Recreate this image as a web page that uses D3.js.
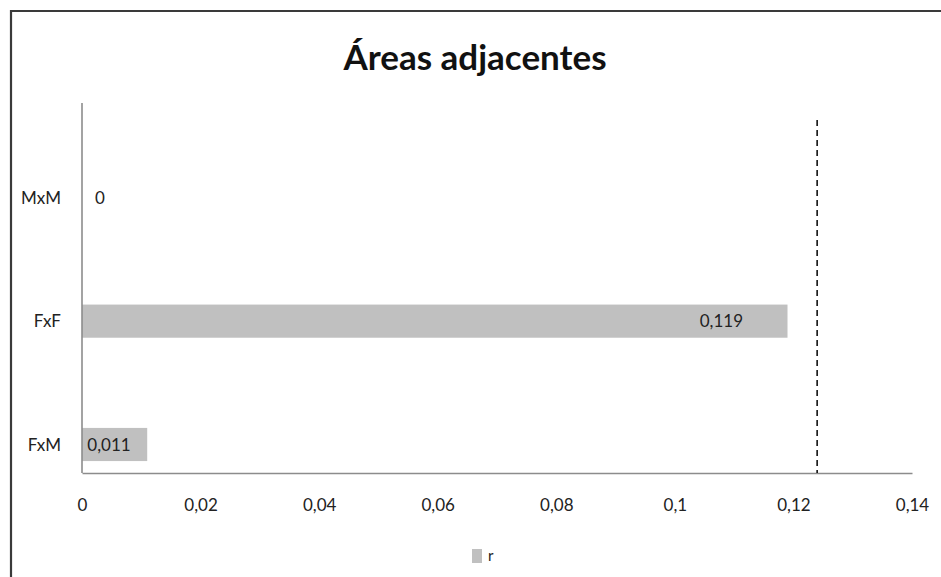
<!DOCTYPE html>
<html>
<head>
<meta charset="utf-8">
<script src="https://cdn.jsdelivr.net/npm/d3@7/dist/d3.min.js"></script>
<style>
  html, body { margin: 0; padding: 0; background: #fff; }
  svg { display: block; }
  text { font-family: Lato, "Open Sans", sans-serif; fill: #222; }
</style>
</head>
<body>
<svg id="chart" width="941" height="577"></svg>
<script>
// Correlation coefficient r for each pairing of adjacent areas
const categories = ["MxM", "FxF", "FxM"];
const rValues = [0, 0.119, 0.011];
const valueLabels = ["0", "0,119", "0,011"];
const xTicks = [0, 0.02, 0.04, 0.06, 0.08, 0.1, 0.12, 0.14];
const xTickLabels = ["0", "0,02", "0,04", "0,06", "0,08", "0,1", "0,12", "0,14"];
const thresholdValue = 0.124;   // dashed reference line
const seriesName = "r";
const titleText = "Áreas adjacentes";

const svg = d3.select("#chart");
const plot = { left: 82, right: 912, top: 103, bottom: 473 };

// outer frame (open on the right and bottom)
svg.append("path")
  .attr("d", `M11,577 L11,11 L941,11`)
  .attr("fill", "none").attr("stroke", "#3a3a3a").attr("stroke-width", 2.2);

const x = d3.scaleLinear().domain([0, 0.14]).range([plot.left, plot.right]);
const y = d3.scaleBand().domain(categories).range([plot.top, plot.bottom]).padding(0);
// each category cluster holds three slots; the r bar sits in the last one
const slot = d3.scaleBand().domain([0, 1, 2]).range([0, y.bandwidth()]).paddingOuter(0.36).paddingInner(0);

// title
svg.append("text")
  .attr("x", 475).attr("y", 70)
  .attr("text-anchor", "middle")
  .style("font-weight", "bold").style("font-size", "35px").style("fill", "#111")
  .text(titleText);

// bars
const data = categories.map((c, i) => ({ cat: c, v: rValues[i], label: valueLabels[i] }));
svg.selectAll("rect.bar").data(data).join("rect")
  .attr("class", "bar")
  .attr("x", x(0))
  .attr("y", d => y(d.cat) + slot(2))
  .attr("width", d => x(d.v) - x(0))
  .attr("height", slot.bandwidth())
  .attr("fill", "#c0c0c0");

// value labels
svg.selectAll("text.val").data(data).join("text")
  .attr("class", "val")
  .attr("x", d => d.v > 0.05 ? x(d.v - 0.0075) : x(d.v === 0 ? 0.0022 : 0.0009))
  .attr("y", d => y(d.cat) + slot(2) + slot.bandwidth() / 2)
  .attr("dy", "0.36em")
  .attr("text-anchor", d => d.v > 0.05 ? "end" : "start")
  .style("font-size", "17px")
  .text(d => d.label);

// x axis
const xAxis = d3.axisBottom(x).tickValues(xTicks)
  .tickFormat((d, i) => xTickLabels[i]).tickSize(0).tickPadding(26);
const gx = svg.append("g").attr("transform", `translate(0,${plot.bottom})`).call(xAxis);
gx.select(".domain").attr("stroke", "#8c8c8c").attr("stroke-width", 1.6);
gx.selectAll("text").style("font-size", "17px").style("font-family", "Lato, sans-serif").attr("fill", "#222");

// y axis: category names centred on their bars
const gy = svg.append("g");
gy.append("line")
  .attr("x1", plot.left).attr("x2", plot.left)
  .attr("y1", plot.top).attr("y2", plot.bottom)
  .attr("stroke", "#8c8c8c").attr("stroke-width", 1.6);
gy.selectAll("text").data(categories).join("text")
  .attr("x", plot.left - 21)
  .attr("y", c => y(c) + slot(2) + slot.bandwidth() / 2)
  .attr("dy", "0.36em")
  .attr("text-anchor", "end")
  .style("font-size", "17px")
  .text(c => c);

// dashed reference line
svg.append("line")
  .attr("x1", x(thresholdValue)).attr("x2", x(thresholdValue))
  .attr("y1", plot.top + 17).attr("y2", plot.bottom)
  .attr("stroke", "#111").attr("stroke-width", 1.6)
  .attr("stroke-dasharray", "6,4");

// legend
const lg = svg.append("g").attr("transform", "translate(472,549)");
lg.append("rect").attr("width", 10).attr("height", 14).attr("fill", "#c0c0c0");
lg.append("text").attr("x", 16).attr("y", 7).attr("dy", "0.36em")
  .style("font-size", "15px").text(seriesName);
</script>
</body>
</html>
